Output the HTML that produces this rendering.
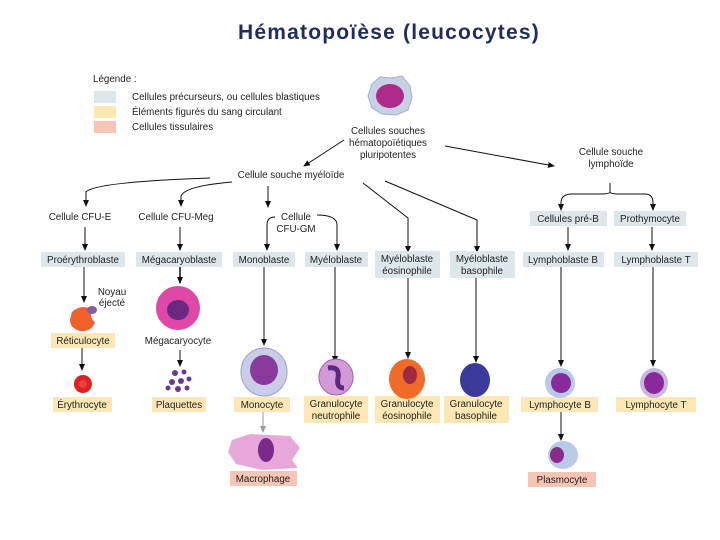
<!DOCTYPE html>
<html><head><meta charset="utf-8"><style>
html,body{margin:0;padding:0;background:#fff;width:720px;height:540px;overflow:hidden}
svg{display:block}
text{font-family:"Liberation Sans",sans-serif;font-size:9.8px;fill:#222}
.t{font-size:21px;font-weight:bold;fill:#1f2d5a;letter-spacing:1.2px}
</style></head><body>
<svg width="720" height="540" viewBox="0 0 720 540" xmlns="http://www.w3.org/2000/svg">
<defs>
<marker id="a" markerWidth="8" markerHeight="8" refX="6" refY="4" orient="auto" markerUnits="userSpaceOnUse"><path d="M0,1 L7,4 L0,7 Z" fill="#111"/></marker>
<marker id="g" markerWidth="8" markerHeight="8" refX="6" refY="4" orient="auto" markerUnits="userSpaceOnUse"><path d="M0,1 L7,4 L0,7 Z" fill="#999"/></marker>
</defs>
<text x="389" y="39" text-anchor="middle" class="t">Hématopoïèse (leucocytes)</text>
<!-- legend -->
<text x="93" y="82">Légende  :</text>
<rect x="94" y="91" width="22" height="12" fill="#dde6ea"/>
<rect x="94" y="106" width="22" height="12" fill="#fde8b5"/>
<rect x="94" y="121" width="22" height="12" fill="#f6c5b5"/>
<text x="132" y="100">Cellules précurseurs, ou cellules blastiques</text>
<text x="132" y="115">Éléments figurés du sang circulant</text>
<text x="132" y="130">Cellules tissulaires</text>
<!-- stem cell -->
<path d="M372,84 L380,77 L392,78 L402,76 L410,86 L412,98 L408,110 L396,115 L382,114 L372,108 L368,96 Z" fill="#c5d2e6" stroke="#9fb0cc"/>
<ellipse cx="390" cy="96" rx="14" ry="12" fill="#b02a8a"/>
<g text-anchor="middle">
<text x="388" y="134">Cellules souches</text>
<text x="388" y="146">hématopoïétiques</text>
<text x="388" y="158">pluripotentes</text>
<text x="291" y="178">Cellule souche myéloïde</text>
<text x="611" y="155">Cellule souche</text>
<text x="611" y="167">lymphoïde</text>
<text x="80" y="220">Cellule CFU-E</text>
<text x="176" y="220">Cellule CFU-Meg</text>
<text x="296" y="220">Cellule</text>
<text x="296" y="232">CFU-GM</text>
</g>
<g stroke="#111" stroke-width="1" fill="none">
<line x1="344" y1="140" x2="304" y2="166" marker-end="url(#a)"/>
<line x1="445" y1="146" x2="554" y2="166" marker-end="url(#a)"/>
<path d="M210,178 Q95,182 86,192 L86,206" marker-end="url(#a)"/>
<path d="M232,182 Q185,186 181,196 L181,206" marker-end="url(#a)"/>
<line x1="268" y1="186" x2="268" y2="207" marker-end="url(#a)"/>
<path d="M363,183 L408,218 L408,252" marker-end="url(#a)"/>
<path d="M385,181 L477,220 L477,252" marker-end="url(#a)"/>
<path d="M275,217 Q267,217 267,225 L267,250" marker-end="url(#a)"/>
<path d="M317,215 Q337,215 337,225 L337,250" marker-end="url(#a)"/>
<path d="M610,183 L610,192 Q610,194 600,194 L572,194 Q561,194 561,203 L561,210" marker-end="url(#a)"/>
<path d="M610,192 Q610,194 620,194 L645,194 Q653,194 653,203 L653,210" marker-end="url(#a)"/>
<line x1="85" y1="227" x2="85" y2="250" marker-end="url(#a)"/>
<line x1="180" y1="227" x2="180" y2="250" marker-end="url(#a)"/>
<line x1="568" y1="227" x2="568" y2="250" marker-end="url(#a)"/>
<line x1="652" y1="227" x2="652" y2="250" marker-end="url(#a)"/>
<line x1="84" y1="267" x2="84" y2="302" marker-end="url(#a)"/>
<line x1="180" y1="267" x2="180" y2="283" marker-end="url(#a)" stroke-width="1.5"/>
<line x1="82" y1="348" x2="82" y2="370" marker-end="url(#a)"/>
<line x1="180" y1="350" x2="180" y2="366" marker-end="url(#a)"/>
<line x1="264" y1="267" x2="264" y2="345" marker-end="url(#a)"/>
<line x1="335" y1="267" x2="335" y2="362" marker-end="url(#a)"/>
<line x1="408" y1="278" x2="408" y2="358" marker-end="url(#a)"/>
<line x1="476" y1="278" x2="476" y2="362" marker-end="url(#a)"/>
<line x1="561" y1="267" x2="561" y2="366" marker-end="url(#a)"/>
<line x1="653" y1="267" x2="653" y2="366" marker-end="url(#a)"/>
<line x1="263" y1="412" x2="263" y2="432" stroke="#999" marker-end="url(#g)"/>
<line x1="561" y1="412" x2="561" y2="440" marker-end="url(#a)"/>
</g>
<!-- blast boxes -->
<g fill="#dde6ea">
<rect x="530" y="211" width="77" height="15"/>
<rect x="614" y="211" width="72" height="15"/>
<rect x="41" y="252" width="84" height="15"/>
<rect x="136" y="252" width="86" height="15"/>
<rect x="233" y="252" width="62" height="15"/>
<rect x="305" y="252" width="63" height="15"/>
<rect x="375" y="251" width="65" height="27"/>
<rect x="450" y="251" width="65" height="27"/>
<rect x="523" y="252" width="81" height="15"/>
<rect x="614" y="252" width="84" height="15"/>
</g>
<g fill="#fde8b5">
<rect x="51" y="333" width="64" height="15"/>
<rect x="53" y="397" width="59" height="15"/>
<rect x="152" y="397" width="54" height="15"/>
<rect x="234" y="397" width="56" height="15"/>
<rect x="304" y="396" width="64" height="27"/>
<rect x="375" y="396" width="65" height="27"/>
<rect x="444" y="396" width="65" height="27"/>
<rect x="521" y="397" width="77" height="15"/>
<rect x="616" y="397" width="80" height="15"/>
</g>
<g fill="#f6c5b5">
<rect x="230" y="471" width="67" height="15"/>
<rect x="528" y="472" width="68" height="15"/>
</g>
<g text-anchor="middle">
<text x="568" y="222">Cellules pré-B</text>
<text x="650" y="222">Prothymocyte</text>
<text x="83" y="263">Proérythroblaste</text>
<text x="179" y="263">Mégacaryoblaste</text>
<text x="264" y="263">Monoblaste</text>
<text x="336" y="263">Myéloblaste</text>
<text x="407" y="262">Myéloblaste</text>
<text x="407" y="274">éosinophile</text>
<text x="482" y="262">Myéloblaste</text>
<text x="482" y="274">basophile</text>
<text x="563" y="263">Lymphoblaste B</text>
<text x="656" y="263">Lymphoblaste  T</text>
<text x="83" y="344">Réticulocyte</text>
<text x="178" y="344">Mégacaryocyte</text>
<text x="82" y="408">Érythrocyte</text>
<text x="179" y="408">Plaquettes</text>
<text x="262" y="408">Monocyte</text>
<text x="336" y="407">Granulocyte</text>
<text x="336" y="419">neutrophile</text>
<text x="407" y="407">Granulocyte</text>
<text x="407" y="419">éosinophile</text>
<text x="476" y="407">Granulocyte</text>
<text x="476" y="419">basophile</text>
<text x="560" y="408">Lymphocyte  B</text>
<text x="656" y="408">Lymphocyte  T</text>
<text x="263" y="482">Macrophage</text>
<text x="562" y="483">Plasmocyte</text>
<text x="112" y="295">Noyau</text>
<text x="112" y="306">éjecté</text>
</g>
<!-- cells -->
<path d="M72,312 Q82,303 92,310 Q89,318 95,322 Q92,332 80,331 Q70,328 70,320 Z" fill="#f0602a"/>
<ellipse cx="92" cy="310" rx="5" ry="4" fill="#8a5aa8"/>
<circle cx="83" cy="384" r="9" fill="#e02020"/><circle cx="83" cy="384" r="4" fill="#f04040"/>
<circle cx="178" cy="308" r="22" fill="#e048a8"/><ellipse cx="178" cy="310" rx="11" ry="10" fill="#6a2880"/>
<g fill="#6a3a90"><circle cx="175" cy="373" r="3"/><circle cx="184" cy="372" r="2.5"/><circle cx="172" cy="382" r="3"/><circle cx="181" cy="381" r="3"/><circle cx="189" cy="379" r="2.5"/><circle cx="168" cy="388" r="2.5"/><circle cx="178" cy="389" r="3"/><circle cx="187" cy="388" r="2.5"/></g>
<ellipse cx="264" cy="372" rx="23" ry="24" fill="#c8cde8" stroke="#9aa0c8"/><ellipse cx="264" cy="370" rx="14" ry="15" fill="#8a3a9a"/>
<path d="M232,440 L250,434 L290,436 L300,448 L292,460 L298,468 L262,470 L236,464 L228,452 Z" fill="#e6a8d8"/><ellipse cx="266" cy="450" rx="8" ry="12" fill="#7a2a8a"/>
<ellipse cx="336" cy="377" rx="17" ry="18" fill="#d49ad8" stroke="#a060b0"/><path d="M328,368 Q340,366 338,378 Q336,388 344,388" stroke="#5a2a80" stroke-width="5" fill="none"/>
<ellipse cx="407" cy="379" rx="18" ry="20" fill="#f06a28"/><ellipse cx="410" cy="375" rx="7" ry="9" fill="#a02a40"/>
<ellipse cx="475" cy="380" rx="15" ry="17" fill="#3a3a9a"/>
<ellipse cx="560" cy="383" rx="15" ry="15" fill="#b8c8e8"/><ellipse cx="561" cy="383" rx="10" ry="10" fill="#8a2a9a"/>
<ellipse cx="654" cy="383" rx="14" ry="15" fill="#c8b8e0"/><ellipse cx="654" cy="383" rx="10" ry="11" fill="#8a2a9a"/>
<ellipse cx="563" cy="455" rx="15" ry="14" fill="#b8cae8"/><ellipse cx="557" cy="455" rx="7" ry="8" fill="#8a2a8a"/>
</svg>
</body></html>
